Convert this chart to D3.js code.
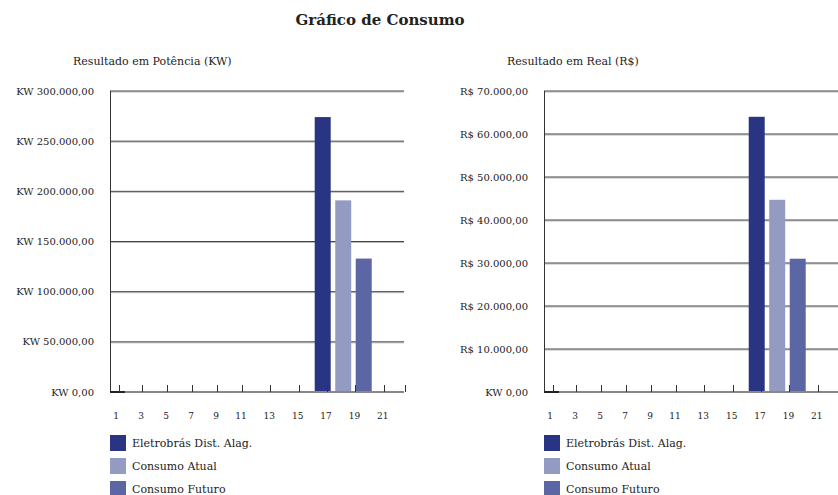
<!DOCTYPE html>
<html><head><meta charset="utf-8">
<script src="https://cdn.jsdelivr.net/npm/d3@7"></script>
<style>
html,body{margin:0;padding:0;background:#fff;}
text{font-family:"DejaVu Serif",serif;fill:#222;}
</style></head>
<body><svg id="c" width="838" height="495"></svg>
<script>
// ---- data ----
const categories = ["1","2","3","4","5","6","7","8","9","10","11","12","13","14","15","16","17","18","19","20","21","22"];
const xTickLabels = ["1","3","5","7","9","11","13","15","17","19","21"];
const seriesNames = ["Eletrobrás Dist. Alag.", "Consumo Atual", "Consumo Futuro"];
const seriesColors = ["#293583", "#949bc3", "#5d66a4"];
const barCategory = "18";
const kwValues = [274000, 191000, 133000];
const realValues = [64000, 44700, 31000];
const kwTicks = [0, 50000, 100000, 150000, 200000, 250000, 300000];
const kwTickLabels = ["KW 0,00","KW 50.000,00","KW 100.000,00","KW 150.000,00","KW 200.000,00","KW 250.000,00","KW 300.000,00"];
const realTicks = [0, 10000, 20000, 30000, 40000, 50000, 60000, 70000];
const realTickLabels = ["KW 0,00","R$ 10.000,00","R$ 20.000,00","R$ 30.000,00","R$ 40.000,00","R$ 50.000,00","R$ 60.000,00","R$ 70.000,00"];
const chartTitle = "Gráfico de Consumo";
const subTitles = ["Resultado em Potência (KW)", "Resultado em Real (R$)"];

// ---- layout ----
const svg = d3.select("#c");
svg.append("text").attr("x", 380).attr("y", 25).attr("text-anchor", "middle")
  .style("font-size", "15px").style("font-weight", "bold").text(chartTitle);

function drawChart(ox, subtitle, values, ticks, tickLabels) {
  const g = svg.append("g").attr("transform", `translate(${ox},0)`);
  const top = 91, bottom = 392, w = 294;
  const y = d3.scaleLinear().domain([0, d3.max(ticks)]).range([bottom, top]);
  const x = d3.scaleLinear().domain([0.5, 11, 22.5]).range([0, 131, w]);
  const catX = c => x(+c);

  g.append("text").attr("x", -37).attr("y", 65).style("font-size", "11px").text(subtitle);

  // gridlines
  const grid = g.append("g");
  ticks.slice(1).forEach(t => {
    grid.append("line").attr("x1", 0).attr("x2", w).attr("y1", y(t) + 1).attr("y2", y(t) + 1)
      .attr("stroke", "#bbb").attr("stroke-width", 1);
    grid.append("line").attr("x1", 0).attr("x2", w).attr("y1", y(t)).attr("y2", y(t))
      .attr("stroke", "#444").attr("stroke-width", 1);
  });

  // y labels
  ticks.forEach((t, i) => {
    g.append("text").attr("x", -16).attr("y", y(t)).attr("dy", "0.35em")
      .attr("text-anchor", "end").style("font-size", "10px").text(tickLabels[i]);
  });

  // bars
  const sub = d3.scaleBand().domain(seriesNames).range([-25.5, 31.5]).paddingInner(0.22);
  const cx = catX(barCategory);
  g.selectAll("rect.bar").data(values).join("rect").attr("class", "bar")
    .attr("x", (d, i) => cx + sub(seriesNames[i]))
    .attr("width", sub.bandwidth())
    .attr("y", d => y(d)).attr("height", d => y(0) - y(d))
    .attr("fill", (d, i) => seriesColors[i]);

  // y axis
  g.append("line").attr("x1", 0.5).attr("x2", 0.5).attr("y1", top).attr("y2", bottom)
    .attr("stroke", "#333").attr("stroke-width", 1);
  // x axis baseline
  g.append("line").attr("x1", 0).attr("x2", w).attr("y1", bottom).attr("y2", bottom)
    .attr("stroke", "#888").attr("stroke-width", 2);
  g.append("line").attr("x1", 0).attr("x2", x(1.7)).attr("y1", bottom).attr("y2", bottom)
    .attr("stroke", "#222").attr("stroke-width", 2);
  // ticks
  xTickLabels.concat(["22.5"]).forEach(c => {
    const xx = Math.round(x(+c) + (c === "1" ? 3 : 1)) + 0.5;
    g.append("line").attr("x1", xx).attr("x2", xx).attr("y1", bottom - 7).attr("y2", bottom)
      .attr("stroke", "#333").attr("stroke-width", 1);
  });
  // x labels
  xTickLabels.forEach(c => {
    g.append("text").attr("x", catX(c)).attr("y", 419).attr("text-anchor", "middle")
      .style("font-size", "9px").text(c);
  });

  // legend
  seriesNames.forEach((s, i) => {
    g.append("rect").attr("x", 0).attr("y", 435 + i * 23).attr("width", 16).attr("height", 16)
      .attr("fill", seriesColors[i]);
    g.append("text").attr("x", 22).attr("y", 443 + i * 23).attr("dy", "0.35em")
      .style("font-size", "11px").text(s);
  });
}

drawChart(110, subTitles[0], kwValues, kwTicks, kwTickLabels);
drawChart(544, subTitles[1], realValues, realTicks, realTickLabels);
</script></body></html>
